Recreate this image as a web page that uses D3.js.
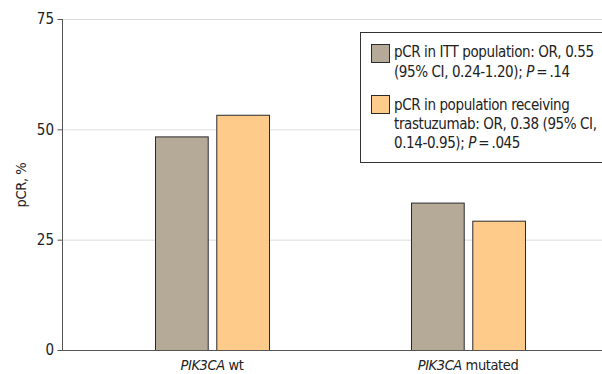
<!DOCTYPE html>
<html><head><meta charset="utf-8">
<script src="https://cdn.jsdelivr.net/npm/d3@7"></script>
<style>
body{margin:0;background:#fff;}
svg{display:block;}
text{font-family:"DejaVu Sans Condensed","Liberation Sans Narrow",sans-serif;fill:#222;}
</style></head>
<body><svg id="c" width="602" height="374"></svg>
<script>
const categories = ["PIK3CA wt", "PIK3CA mutated"];
const seriesNames = ["pCR in ITT population", "pCR in population receiving trastuzumab"];
const ittValues = [48.4, 33.4];
const trastuzumabValues = [53.3, 29.3];
const yTicks = [0, 25, 50, 75];
const seriesColors = ["#b5aa97", "#fecb8b"];
const legendLines = [
  [["pCR in ITT population: OR, 0.55"], ["(95% CI, 0.24-1.20); ", ["P"], "\u2009=\u2009.14"]],
  [["pCR in population receiving"], ["trastuzumab: OR, 0.38 (95% CI,"], ["0.14-0.95); ", ["P"], "\u2009=\u2009.045"]]
];

const FS = "14.5px";
const LFS = "15px";
const LS = "-0.4px";
const svg = d3.select("#c");
const W = 602, H = 374;
const m = {left: 63, top: 19, bottom: 350};
const y = d3.scaleLinear().domain([0, 75]).range([m.bottom, m.top]);
const x0 = d3.scaleBand().domain(categories).range([84, 596]).paddingInner(0).paddingOuter(0);
const x1 = d3.scaleBand().domain([0, 1]).range([-57, 57]).paddingInner(0.14).paddingOuter(0);

// gridlines
svg.append("g").selectAll("line").data(yTicks.filter(d => d > 0)).join("line")
  .attr("x1", m.left).attr("x2", W).attr("y1", d => y(d) + 0.5).attr("y2", d => y(d) + 0.5)
  .attr("stroke", "#dcdcdc").attr("stroke-width", 1);

// bars
const rows = categories.map((c, i) => ({c, vals: [ittValues[i], trastuzumabValues[i]]}));
const g = svg.append("g").selectAll("g").data(rows).join("g")
  .attr("transform", d => `translate(${x0(d.c) + x0.bandwidth() / 2},0)`);
g.selectAll("rect").data(d => d.vals.map((v, k) => ({v, k}))).join("rect")
  .attr("x", d => x1(d.k) + 0.5).attr("width", x1.bandwidth())
  .attr("y", d => y(d.v) + 0.5).attr("height", d => y(0) - y(d.v))
  .attr("fill", d => seriesColors[d.k]).attr("stroke", "#2a2a2a").attr("stroke-width", 1);

// y axis
const ya = svg.append("g").attr("transform", `translate(${m.left},0)`)
  .call(d3.axisLeft(y).tickValues(yTicks).tickSize(5).tickPadding(4));
ya.select(".domain").remove();
ya.selectAll(".tick line").attr("stroke", "#555").attr("transform", "translate(-0.5,0)");
ya.selectAll(".tick text").style("font-size", LFS).attr("fill", "#222")
  .style("font-family", "'DejaVu Sans Condensed',sans-serif");
svg.append("line").attr("x1", m.left - 0.5).attr("x2", m.left - 0.5).attr("y1", y(75)).attr("y2", y(0) + 0.5)
  .attr("stroke", "#555");
// x axis line
svg.append("line").attr("x1", m.left - 5).attr("x2", W).attr("y1", y(0) + 0.5).attr("y2", y(0) + 0.5)
  .attr("stroke", "#555");

// x labels
categories.forEach(c => {
  const parts = c.split(" ");
  const t = svg.append("text").attr("x", x0(c) + x0.bandwidth() / 2).attr("y", 370)
    .attr("text-anchor", "middle").style("font-size", FS).style("letter-spacing", LS);
  t.append("tspan").style("font-style", "italic").text(parts[0]);
  t.append("tspan").text(" " + parts[1]);
});

// y label
svg.append("text").attr("transform", "translate(26,185) rotate(-90)").attr("text-anchor", "middle")
  .style("font-size", FS).style("letter-spacing", LS).text("pCR, %");

// legend
const lg = svg.append("g");
lg.append("rect").attr("x", 360.5).attr("y", 32.5).attr("width", 260).attr("height", 130)
  .attr("fill", "#fff").attr("stroke", "#333");
const swY = [44, 95];
const lineY = [[57, 77], [110, 129, 148]];
legendLines.forEach((lines, k) => {
  lg.append("rect").attr("x", 371.5).attr("y", swY[k] + 0.5).attr("width", 18).attr("height", 18)
    .attr("fill", seriesColors[k]).attr("stroke", "#2a2a2a");
  lines.forEach((ln, j) => {
    const t = lg.append("text").attr("x", 394).attr("y", lineY[k][j])
      .style("font-size", LFS).style("letter-spacing", LS);
    ln.forEach(p => {
      if (Array.isArray(p)) t.append("tspan").style("font-style", "italic").text(p[0]);
      else t.append("tspan").text(p);
    });
  });
});
</script></body></html>
